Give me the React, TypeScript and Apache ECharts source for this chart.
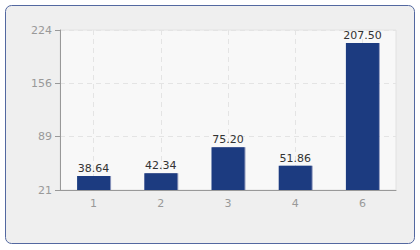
import React, { useEffect, useRef } from "react";
import * as echarts from "echarts";

const categories = ["1", "2", "3", "4", "6"];
const values = [38.64, 42.34, 75.2, 51.86, 207.5];
const yMin = 21;
const yMax = 224;
const gridSlots = ["", "", "", "", "", "", "", "", "", "", ""];

export default function App() {
  const ref = useRef<HTMLDivElement>(null);
  useEffect(() => {
    if (!ref.current) return;
    const chart = echarts.init(ref.current, null, { renderer: "svg" });
    const font = "DejaVu Sans";
    chart.setOption({
      animation: false,
      backgroundColor: "#ffffff",
      graphic: [
        {
          type: "rect",
          z: -10,
          shape: { x: 5.5, y: 5.5, width: 409, height: 238, r: 6 },
          style: { fill: "#efefef", stroke: "#5368a0", lineWidth: 1 },
        },
      ],
      grid: {
        left: 60,
        right: 24,
        top: 30,
        bottom: 60,
        show: true,
        backgroundColor: "#f8f8f8",
        borderColor: "#e2e2e2",
        borderWidth: 1,
      },
      xAxis: [
        {
          type: "category",
          data: categories,
          axisLine: { lineStyle: { color: "#999999" } },
          axisTick: { alignWithLabel: true, length: 5, lineStyle: { color: "#999999" } },
          axisLabel: { color: "#999999", fontFamily: font, fontSize: 11, margin: 8 },
          splitLine: { show: false },
        },
        {
          type: "category",
          data: gridSlots,
          boundaryGap: false,
          position: "bottom",
          axisLine: { show: false },
          axisTick: { show: false },
          axisLabel: { show: false },
          splitLine: {
            show: true,
            interval: (i: number) => i % 2 === 1,
            lineStyle: { color: "#e4e4e4", type: [5, 4] },
          },
        },
      ],
      yAxis: {
        type: "value",
        min: yMin,
        max: yMax,
        interval: (yMax - yMin) / 3,
        axisLine: { show: true, lineStyle: { color: "#999999" } },
        axisTick: { show: true, length: 5, lineStyle: { color: "#999999" } },
        axisLabel: {
          color: "#999999",
          fontFamily: font,
          fontSize: 11,
          margin: 8,
          formatter: (v: number) => String(Math.round(v)),
        },
        splitLine: { show: true, lineStyle: { color: "#e4e4e4", type: [5, 4] } },
      },
      series: [
        {
          type: "bar",
          data: values,
          barWidth: 33,
          itemStyle: {
            color: "#1a3a80",
            shadowColor: "rgba(70,90,150,0.6)",
            shadowOffsetX: 1,
            shadowBlur: 0,
          },
          label: {
            show: true,
            position: "top",
            distance: 2,
            color: "#333333",
            fontFamily: font,
            fontSize: 11,
            formatter: (p: any) => Number(p.value).toFixed(2),
          },
        },
      ],
    });
    return () => chart.dispose();
  }, []);
  return (
    <div
      ref={ref}
      style={{ position: "fixed", left: 0, top: 0, width: 420, height: 250 }}
    />
  );
}
